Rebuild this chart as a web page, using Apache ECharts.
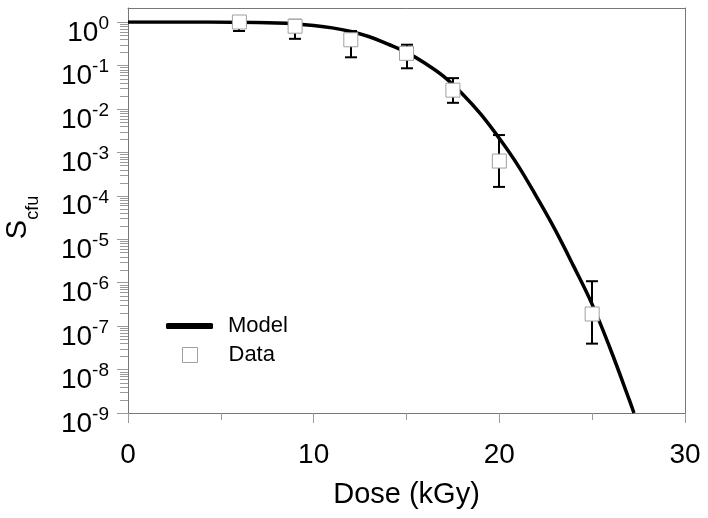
<!DOCTYPE html>
<html><head><meta charset="utf-8">
<script src="https://cdn.jsdelivr.net/npm/echarts@6/dist/echarts.min.js"></script>
<style>html,body{margin:0;padding:0;background:#fff}#c{width:708px;height:518px}</style>
</head><body><div id="c"></div>
<script>
const FONT = '"Liberation Sans", Arial, Helvetica, sans-serif';

// Model curve
const modelDose = [0, 2, 4, 6, 8, 9, 10, 11, 12, 13, 14, 15, 16, 17, 18, 19, 20, 21, 22, 23, 24, 25, 26, 27, 27.25];
const modelS = [1, 1, 0.998, 0.986, 0.944, 0.902, 0.832, 0.733, 0.603, 0.457, 0.309, 0.200, 0.112, 0.0562, 0.0224, 0.00759, 0.00209, 5.01e-4, 9.55e-5, 1.66e-5, 2.40e-6, 3.16e-7, 2.82e-8, 2.0e-9, 1.0e-9];

// Data points with error bars
const dataDose = [6, 9, 12, 15, 17.5, 20, 25];
const dataS = [1.0, 0.80, 0.39, 0.19, 0.027, 6.3e-4, 1.9e-7];
const dataLow = [0.62, 0.41, 0.154, 0.086, 0.0138, 1.6e-4, 3.95e-8];
const dataHigh = [1.3, 1.12, 0.62, 0.30, 0.051, 2.5e-3, 1.08e-6];

// Axis ticks
const xTickValues = [0, 10, 20, 30];
const yDecadeExponents = [-9, -8, -7, -6, -5, -4, -3, -2, -1, 0];
const minorMultipliers = [2, 3, 4, 5, 6, 7, 8, 9];

const minorTickValues = [];
yDecadeExponents.slice(0, -1).forEach(e => {
  minorMultipliers.forEach(m => minorTickValues.push([0, m * Math.pow(10, e)]));
});

const AX = '#777777';
const TK = '#9a9a9a';

const chart = echarts.init(document.getElementById('c'), null, {renderer: 'canvas'});

const frameAxis = {
  type: 'value', min: 0, max: 1, gridIndex: 1,
  axisLine: {show: true, onZero: false, lineStyle: {color: AX, width: 1}},
  axisTick: {show: false}, axisLabel: {show: false}, splitLine: {show: false}
};

chart.setOption({
  animation: false,
  backgroundColor: '#fff',
  grid: [
    {left: 128, right: 23, top: 22, bottom: 105, show: false, containLabel: false, outerBoundsMode: 'none'},
    {left: 128, right: 23, top: 8, bottom: 105, show: false, containLabel: false, outerBoundsMode: 'none'}
  ],
  legend: [
    {
      data: [{name: 'Model', icon: 'roundRect', itemStyle: {color: '#000', borderWidth: 0}}],
      left: 166, top: 315, padding: 0,
      itemWidth: 47, itemHeight: 6,
      textStyle: {fontFamily: FONT, fontSize: 22, color: '#000', lineHeight: 22, padding: [0, 0, 0, 10]},
      selectedMode: false
    },
    {
      data: [{name: 'Data', icon: 'rect', itemStyle: {color: '#fff', borderColor: '#a0a0a0', borderWidth: 1}}],
      left: 182, top: 344, padding: 0,
      itemWidth: 15, itemHeight: 15,
      textStyle: {fontFamily: FONT, fontSize: 22, color: '#000', lineHeight: 22, padding: [0, 0, 0, 26]},
      selectedMode: false
    }
  ],
  xAxis: [
    {
      type: 'value', gridIndex: 0, min: xTickValues[0], max: xTickValues[xTickValues.length - 1], interval: 10,
      name: 'Dose (kGy)', nameLocation: 'middle', nameGap: 67,
      nameTextStyle: {fontFamily: FONT, fontSize: 29, color: '#000', lineHeight: 30},
      axisLine: {show: false, onZero: false},
      axisTick: {show: true, length: 10, lineStyle: {color: TK, width: 1}},
      minorTick: {show: true, splitNumber: 2, length: 7, lineStyle: {color: TK, width: 1}},
      axisLabel: {fontFamily: FONT, fontSize: 28, color: '#000', margin: 28, lineHeight: 28},
      splitLine: {show: false}
    },
    Object.assign({}, frameAxis, {position: 'bottom'}),
    Object.assign({}, frameAxis, {position: 'top'})
  ],
  yAxis: [
    {
      type: 'log', logBase: 10, gridIndex: 0, min: 1e-9, max: 1, splitNumber: 9,
      name: '{s|S}{sub|cfu}', nameLocation: 'middle', nameGap: 95, nameRotate: 90,
      nameTextStyle: {
        fontFamily: FONT, color: '#000',
        rich: {
          s: {fontFamily: FONT, fontSize: 29, color: '#000', lineHeight: 30},
          sub: {fontFamily: FONT, fontSize: 18, color: '#000', lineHeight: 18, padding: [30, 0, 0, 0]}
        }
      },
      axisLine: {show: false, onZero: false},
      axisTick: {show: true, length: 11, lineStyle: {color: TK, width: 1}},
      axisLabel: {
        margin: 19,
        padding: [22, 0, 0, 0],
        formatter: function (v) {
          const e = Math.round(Math.log10(v));
          return '{b|10}{s|' + e + '}';
        },
        rich: {
          b: {fontFamily: FONT, fontSize: 28, color: '#000', lineHeight: 28},
          s: {fontFamily: FONT, fontSize: 19, color: '#000', lineHeight: 19, padding: [0, 0, 19, 0]}
        }
      },
      splitLine: {show: false},
      minorTick: {show: false}
    },
    Object.assign({}, frameAxis, {position: 'left'}),
    Object.assign({}, frameAxis, {position: 'right'})
  ],
  series: [
    {
      name: 'minorTicks', type: 'custom', xAxisIndex: 0, yAxisIndex: 0, clip: false, silent: true, z: 1,
      data: minorTickValues,
      renderItem: function (params, api) {
        const p = api.coord([api.value(0), api.value(1)]);
        const y = Math.round(p[1]) + 0.5;
        const x = Math.round(p[0]);
        return {type: 'line', shape: {x1: x - 8, y1: y, x2: x, y2: y}, style: {stroke: TK, lineWidth: 1}};
      }
    },
    {
      name: 'Model', type: 'line', xAxisIndex: 0, yAxisIndex: 0, z: 2,
      data: modelDose.map((d, i) => [d, modelS[i]]),
      showSymbol: false, symbol: 'none', smooth: 0.4,
      lineStyle: {color: '#000', width: 3.5},
      itemStyle: {color: '#000'}
    },
    {
      name: 'errors', type: 'custom', xAxisIndex: 0, yAxisIndex: 0, clip: false, z: 3,
      data: dataDose.map((d, i) => [d, dataLow[i], dataHigh[i]]),
      renderItem: function (params, api) {
        const x = api.value(0);
        const lo = api.coord([x, api.value(1)]);
        const hi = api.coord([x, api.value(2)]);
        const cx = Math.round(lo[0]);
        const hw = 6;
        const st = {stroke: '#000', lineWidth: 2};
        return {type: 'group', children: [
          {type: 'line', shape: {x1: cx, y1: lo[1], x2: cx, y2: hi[1]}, style: st},
          {type: 'line', shape: {x1: cx - hw, y1: lo[1], x2: cx + hw, y2: lo[1]}, style: st},
          {type: 'line', shape: {x1: cx - hw, y1: hi[1], x2: cx + hw, y2: hi[1]}, style: st}
        ]};
      }
    },
    {
      name: 'Data', type: 'scatter', xAxisIndex: 0, yAxisIndex: 0, z: 4,
      data: dataDose.map((d, i) => [d, dataS[i]]),
      symbol: 'rect', symbolSize: 14,
      itemStyle: {color: '#fff', borderColor: '#a0a0a0', borderWidth: 1, opacity: 1}
    }
  ]
});
</script></body></html>
